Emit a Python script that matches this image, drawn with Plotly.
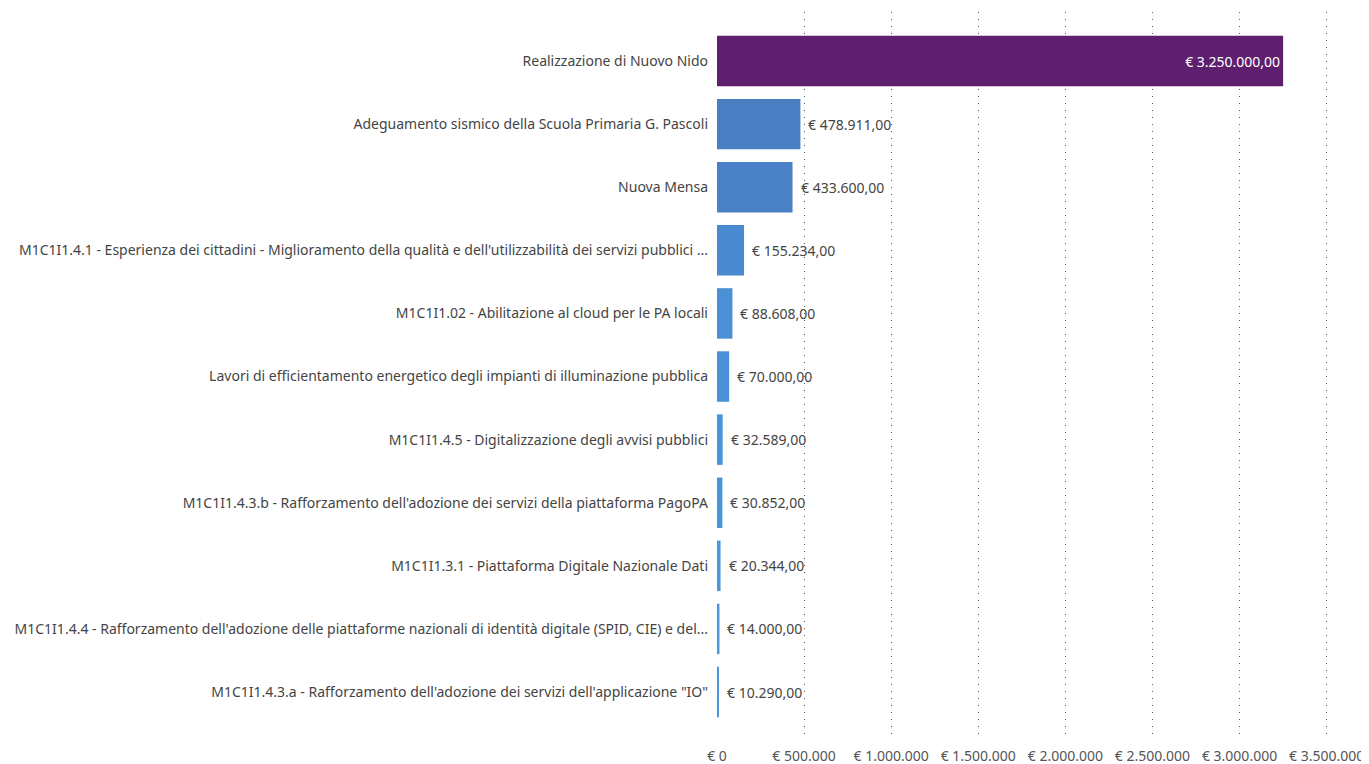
import plotly.graph_objects as go

categories = [
    "Realizzazione di Nuovo Nido",
    "Adeguamento sismico della Scuola Primaria G. Pascoli",
    "Nuova Mensa",
    "M1C1I1.4.1 - Esperienza dei cittadini - Miglioramento della qualità e dell'utilizzabilità dei servizi pubblici ...",
    "M1C1I1.02 - Abilitazione al cloud per le PA locali",
    "Lavori di efficientamento energetico degli impianti di illuminazione pubblica",
    "M1C1I1.4.5 - Digitalizzazione degli avvisi pubblici",
    "M1C1I1.4.3.b - Rafforzamento dell'adozione dei servizi della piattaforma PagoPA",
    "M1C1I1.3.1 - Piattaforma Digitale Nazionale Dati",
    "M1C1I1.4.4 - Rafforzamento dell'adozione delle piattaforme nazionali di identità digitale (SPID, CIE) e del...",
    "M1C1I1.4.3.a - Rafforzamento dell'adozione dei servizi dell'applicazione \"IO\"",
]
values = [3250000, 478911, 433600, 155234, 88608, 70000, 32589, 30852, 20344, 14000, 10290]
bar_colors = ["#5E1F6E", "#4A7EC3", "#4A80C5", "#4A8AD0", "#4A90D5", "#4A92D7",
              "#4A95DA", "#4A95DA", "#4A96DB", "#4A97DC", "#4A97DC"]
tick_vals = [0, 500000, 1000000, 1500000, 2000000, 2500000, 3000000, 3500000]
tick_text = ["€ 0", "€ 500.000", "€ 1.000.000", "€ 1.500.000", "€ 2.000.000",
             "€ 2.500.000", "€ 3.000.000", "€ 3.500.000"]


def fmt_eur(v):
    s = f"{v:,.2f}"
    s = s.replace(",", "X").replace(".", ",").replace("X", ".")
    return "€ " + s


labels = [fmt_eur(v) for v in values]
inside_text = [labels[0]] + [""] * (len(values) - 1)

fig = go.Figure(go.Bar(
    x=values,
    y=categories,
    orientation="h",
    marker=dict(color=bar_colors, line=dict(width=0)),
    text=inside_text,
    textposition="inside",
    insidetextanchor="end",
    textfont=dict(family="Noto Sans", size=14, color="white"),
    width=0.8,
))

for v, c, lab in zip(values[1:], categories[1:], labels[1:]):
    fig.add_annotation(
        x=v, y=c, xref="x", yref="y",
        text=lab, showarrow=False,
        xanchor="left", xshift=6,
        font=dict(family="Noto Sans", size=14, color="#444444"),
    )

fig.update_layout(
    width=1361,
    height=756,
    paper_bgcolor="white",
    plot_bgcolor="white",
    margin=dict(l=709, r=19, t=4, b=24),
    showlegend=False,
    font=dict(family="Noto Sans", size=14, color="#444444"),
    uniformtext=dict(minsize=8, mode="show"),
)
fig.update_xaxes(
    range=[0, 3634000],
    tickvals=tick_vals,
    ticktext=tick_text,
    showgrid=True,
    gridcolor="#555555",
    griddash="1px,6px",
    gridwidth=1,
    zeroline=False,
    showline=False,
    tickfont=dict(family="Noto Sans", size=14, color="#555555"),
    ticks="",
    ticklabelstandoff=6,
    automargin=False,
)
fig.update_yaxes(
    autorange=False,
    range=[10.76, -0.777],
    showgrid=False,
    zeroline=False,
    ticks="",
    ticklabelstandoff=8,
    tickfont=dict(family="Noto Sans", size=14, color="#444444"),
    automargin=False,
)

fig.write_html("out.html")
